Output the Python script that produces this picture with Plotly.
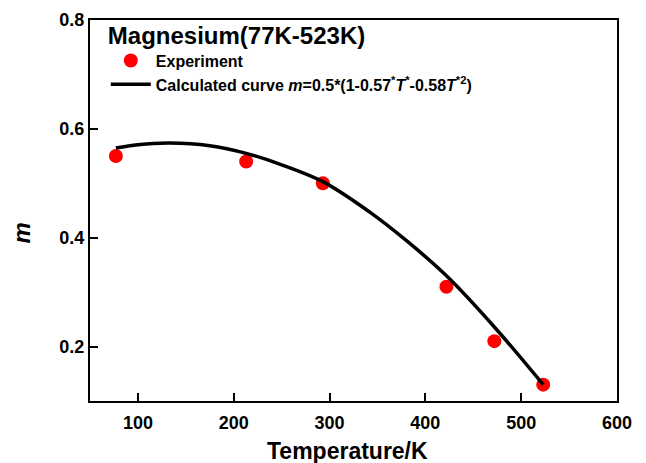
import plotly.graph_objects as go

# Experimental data
exp_T = [77, 213, 293, 422, 472, 523]
exp_m = [0.55, 0.54, 0.50, 0.31, 0.21, 0.13]

# Calculated curve
calc_T = [77, 100, 133, 175, 213, 250, 293, 342, 380, 422, 472, 523]
calc_m = [0.565, 0.571, 0.574, 0.569, 0.555, 0.534, 0.503, 0.447, 0.395, 0.330, 0.236, 0.130]

x_ticks = [100, 200, 300, 400, 500, 600]
y_ticks = [0.2, 0.4, 0.6, 0.8]

FONT = "Liberation Sans, Arial, sans-serif"

fig = go.Figure()
fig.add_trace(go.Scatter(
    x=exp_T, y=exp_m, mode="markers", name="Experiment",
    marker=dict(color="#ff0000", size=14, line=dict(width=0)),
))
fig.add_trace(go.Scatter(
    x=calc_T, y=calc_m, mode="lines",
    name="Calculated curve <i>m</i>=0.5*(1-0.57<sup>*</sup><i>T</i><sup>*</sup>-0.58<i>T</i><sup>*2</sup>)",
    line=dict(color="black", width=3.5, shape="spline"),
))

axis_common = dict(
    showline=True, linecolor="black", linewidth=2, mirror=True,
    ticks="inside", ticklen=8, tickwidth=1.5, tickcolor="black",
    showgrid=False, zeroline=False, automargin=False,
    tickfont=dict(family=FONT, size=18, color="black", weight="bold"),
)

fig.update_xaxes(range=[50, 600], tickvals=x_ticks, ticklabelstandoff=4, **axis_common)
fig.update_yaxes(range=[0.1, 0.8], tickvals=y_ticks, ticktext=[f"{v:.1f}" for v in y_ticks],
                 **axis_common)

fig.add_annotation(text="<b>Temperature/K</b>", xref="paper", yref="paper", x=0.488, y=-0.132,
                   xanchor="center", yanchor="middle", showarrow=False,
                   font=dict(family=FONT, size=23, color="black"))
fig.add_annotation(text="<b><i>m</i></b>", xref="paper", yref="paper", x=-0.16, y=0.44,
                   showarrow=False, textangle=-90,
                   font=dict(family=FONT, size=24, color="black"))

fig.update_layout(
    width=646, height=463,
    margin=dict(l=90, r=29, t=15, b=62),
    paper_bgcolor="white", plot_bgcolor="white",
    showlegend=True,
    legend=dict(
        x=0.03, y=1.02, xanchor="left", yanchor="top",
        bgcolor="rgba(0,0,0,0)",
        itemwidth=40,
        title=dict(text="Magnesium(77K-523K)", font=dict(family=FONT, size=24, color="black", weight="bold")),
        font=dict(family=FONT, size=16, color="black", weight="bold"),
        tracegroupgap=0,
    ),
)

fig.write_html("out.html")
